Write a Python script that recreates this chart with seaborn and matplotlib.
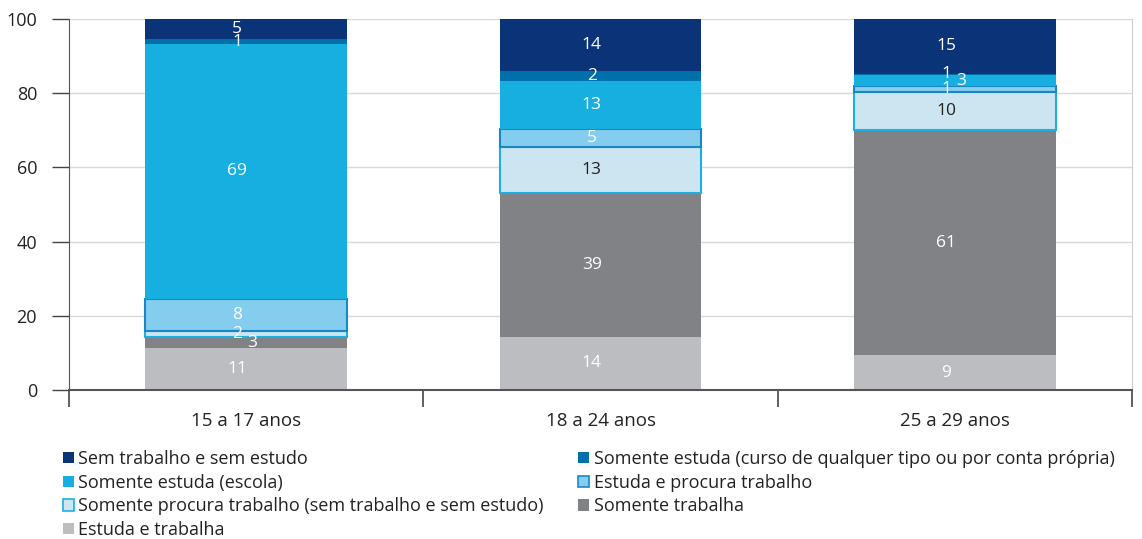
import numpy as np
import pandas as pd
import matplotlib
matplotlib.use("Agg")
import matplotlib.pyplot as plt
import seaborn as sns
from matplotlib.patches import Patch

sns.set_style("white")
plt.rcParams["font.family"] = ["Open Sans", "DejaVu Sans"]

# faixas etárias
categorias = ["15 a 17 anos", "18 a 24 anos", "25 a 29 anos"]

# camadas, de baixo para cima (altura estimada em %)
estuda_trabalha = [11.3, 14.3, 9.4]
somente_trabalha = [3.0, 38.8, 60.7]
somente_procura = [1.6, 12.4, 10.2]
estuda_procura = [8.6, 4.9, 1.6]
somente_escola = [68.8, 13.0, 3.0]
somente_curso = [1.2, 2.6, 0.4]
sem_trabalho_estudo = [5.5, 14.0, 14.7]

# rótulos exibidos
rot_estuda_trabalha = [11, 14, 9]
rot_somente_trabalha = [3, 39, 61]
rot_somente_procura = [2, 13, 10]
rot_estuda_procura = [8, 5, 1]
rot_somente_escola = [69, 13, 3]
rot_somente_curso = [1, 2, 1]
rot_sem_trabalho_estudo = [5, 14, 15]

camadas = [
    ("Estuda e trabalha", estuda_trabalha, rot_estuda_trabalha, "#bcbdc1", None),
    ("Somente trabalha", somente_trabalha, rot_somente_trabalha, "#818286", None),
    ("Somente procura trabalho (sem trabalho e sem estudo)", somente_procura,
     rot_somente_procura, "#cde5f1", "#1ab1e2"),
    ("Estuda e procura trabalho", estuda_procura, rot_estuda_procura, "#85cdee", "#1a87c4"),
    ("Somente estuda (escola)", somente_escola, rot_somente_escola, "#16afdf", None),
    ("Somente estuda (curso de qualquer tipo ou por conta própria)", somente_curso,
     rot_somente_curso, "#0070aa", None),
    ("Sem trabalho e sem estudo", sem_trabalho_estudo, rot_sem_trabalho_estudo, "#0b3378", None),
]

fig = plt.figure(figsize=(11.42, 5.39), dpi=100)
ax = fig.add_axes([69 / 1142, 1 - 390 / 539, (1132 - 69) / 1142, (390 - 19) / 539])

base = np.zeros(len(categorias))
handles = {}
for nome, vals, rots, cor, borda in camadas:
    vals = np.array(vals)
    df = pd.DataFrame({"faixa": categorias, "valor": vals})
    sns.barplot(data=df, x="faixa", y="valor", bottom=base, color=cor,
                width=0.57, saturation=1, ax=ax,
                edgecolor=borda if borda else cor, linewidth=1.5 if borda else 0)
    for i, (v, r) in enumerate(zip(vals, rots)):
        dx = -0.025
        if r == 3 and v <= 3.0:
            dx = 0.017
        cor_txt = "#222222" if (nome.startswith("Somente procura") and r >= 5) else "white"
        ax.text(i + dx, base[i] + v / 2, str(r), ha="center", va="center",
                fontsize=12.5, color=cor_txt, zorder=5)
    handles[nome] = Patch(facecolor=cor, edgecolor=borda if borda else cor,
                          linewidth=1.2 if borda else 0)
    base = base + vals

ax.set_ylim(0, 100)
ax.set_xlim(-0.5, 2.5)
ax.set_yticks([0, 20, 40, 60, 80, 100])
ax.set_xlabel("")
ax.set_ylabel("")
ax.yaxis.grid(True, color="#d9d9d9", linewidth=1)
ax.set_axisbelow(True)

ax.set_xticks([-0.5, 0.5, 1.5, 2.5])
ax.set_xticklabels([])
ax.set_xticks([0, 1, 2], minor=True)
ax.set_xticklabels(categorias, minor=True)
ax.tick_params(axis="x", which="major", length=12, width=1.2, color="#444444",
               direction="out", bottom=True)
ax.tick_params(axis="x", which="minor", length=0, pad=16, labelsize=13.5,
               labelcolor="#222222")
ax.tick_params(axis="y", length=12, width=1, color="#444444", direction="out",
               left=True, pad=11, labelsize=13, labelcolor="#222222")

ax.spines["top"].set_visible(False)
ax.spines["right"].set_color("#cccccc")
ax.spines["left"].set_color("#555555")
ax.spines["bottom"].set_color("#555555")
ax.spines["bottom"].set_linewidth(1.5)

ordem = [
    "Sem trabalho e sem estudo",
    "Somente estuda (escola)",
    "Somente procura trabalho (sem trabalho e sem estudo)",
    "Estuda e trabalha",
    "Somente estuda (curso de qualquer tipo ou por conta própria)",
    "Estuda e procura trabalho",
    "Somente trabalha",
]
fig.legend([handles[n] for n in ordem], ordem, ncol=2, loc="upper left",
           bbox_to_anchor=(63 / 1142, 1 - 450 / 539), frameon=False,
           fontsize=13, handlelength=0.6, handleheight=0.6,
           handletextpad=0.25, labelspacing=0.31, columnspacing=1.9,
           borderpad=0, borderaxespad=0, labelcolor="#222222")

fig.savefig("out.png", dpi=100)
plt.close(fig)
